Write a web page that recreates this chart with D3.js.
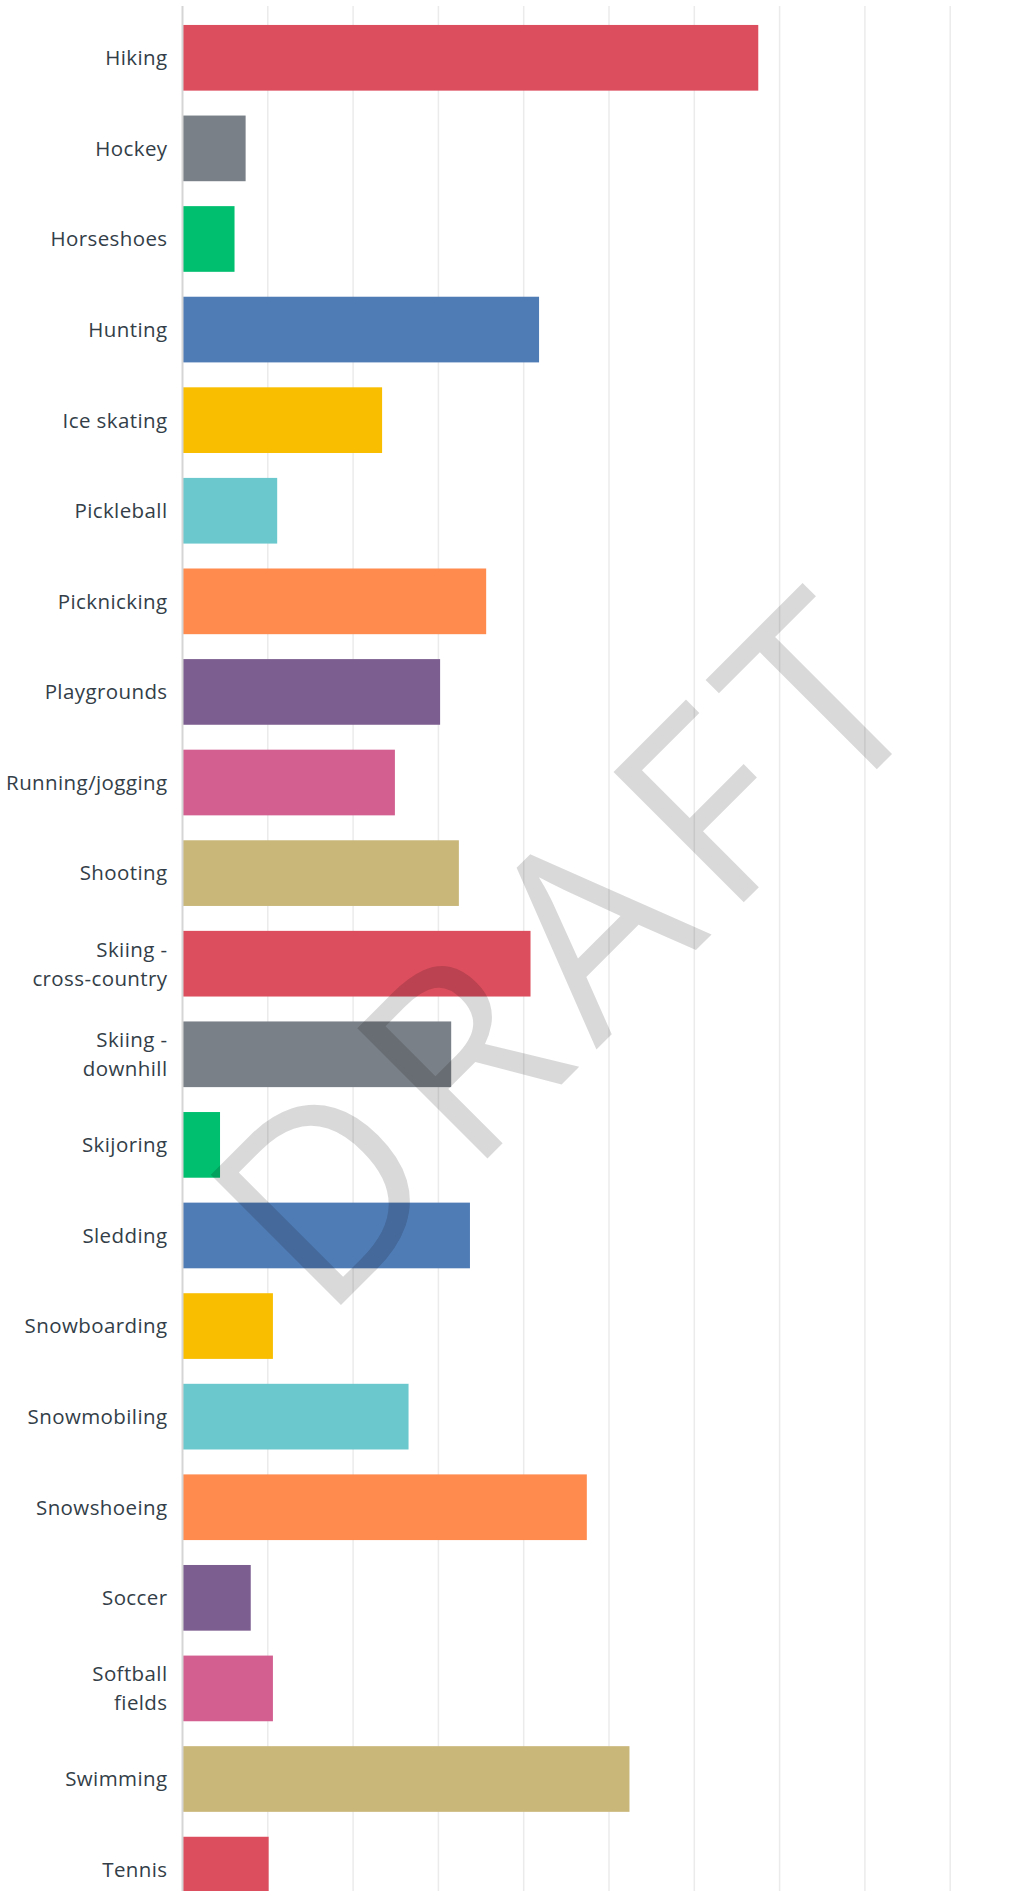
<!DOCTYPE html>
<html>
    <head>
        <meta charset="utf-8" />
        <title>Activities</title>
        <script src="https://d3js.org/d3.v7.min.js"></script>
        <style>
            body {
                margin: 0;
                background: #fff;
            }
            .label {
                font-family: 'Open Sans', sans-serif;
                font-size: 20.5px;
                letter-spacing: 0.4px;
                fill: #333e48;
            }
            .grid line {
                stroke: #ebebeb;
                stroke-width: 1.5px;
            }
            .watermark {
                font-family: 'Open Sans', sans-serif;
                font-size: 258px;
                letter-spacing: 20px;
                fill: #000;
                fill-opacity: 0.15;
            }
        </style>
    </head>
    <body>
        <script>
            const categories = [
                'Hiking', 'Hockey', 'Horseshoes', 'Hunting', 'Ice skating', 'Pickleball',
                'Picknicking', 'Playgrounds', 'Running/jogging', 'Shooting',
                'Skiing - cross-country', 'Skiing - downhill', 'Skijoring', 'Sledding',
                'Snowboarding', 'Snowmobiling', 'Snowshoeing', 'Soccer', 'Softball fields',
                'Swimming', 'Tennis'
            ];
            const values = [
                67.5, 7.4, 6.1, 41.8, 23.4, 11.1,
                35.6, 30.2, 24.9, 32.4,
                40.8, 31.5, 4.4, 33.7,
                10.6, 26.5, 47.4, 8.0, 10.6,
                52.4, 10.1
            ];
            const palette = ['#dc4e5e', '#7a8087', '#00bf6f', '#507cb6', '#f9be00',
                '#6bc8cd', '#ff8b4f', '#7d5e90', '#d25f90', '#c9b77a'];
            const gridTicks = [10, 20, 30, 40, 50, 60, 70, 80, 90];

            const width = 1029, height = 1891;
            const left = 182.5, step = 90.59;

            const svg = d3.select('body').append('svg')
                .attr('width', width)
                .attr('height', height);

            const x = d3.scaleLinear().domain([0, 100]).range([left, left + 853]);
            const y = d3.scaleBand()
                .domain(categories)
                .range([12.5, 12.5 + step * categories.length])
                .paddingInner(0.275)
                .paddingOuter(0.1375);
            const color = d3.scaleOrdinal().domain(d3.range(10)).range(palette);

            // gridlines
            svg.append('g').attr('class', 'grid')
                .selectAll('line')
                .data(gridTicks)
                .join('line')
                .attr('x1', (d) => x(d))
                .attr('x2', (d) => x(d))
                .attr('y1', 6)
                .attr('y2', height);

            // bars
            svg.append('g')
                .selectAll('rect')
                .data(categories)
                .join('rect')
                .attr('x', x(0) + 0.5)
                .attr('y', (d) => y(d))
                .attr('width', (d, i) => x(values[i]) - x(0) - 0.5)
                .attr('height', y.bandwidth())
                .attr('fill', (d, i) => color(i % 10));

            // axis line
            svg.append('line')
                .attr('x1', x(0)).attr('x2', x(0))
                .attr('y1', 6).attr('y2', height)
                .attr('stroke', '#d5d5d5')
                .attr('stroke-width', 2);

            // category labels, wrapped
            const labels = svg.append('g')
                .selectAll('text')
                .data(categories)
                .join('text')
                .attr('class', 'label')
                .attr('text-anchor', 'end')
                .attr('x', x(0) - 15);

            labels.each(function (d) {
                const t = d3.select(this);
                const words = d.split(' ');
                const lines = [];
                let cur = [];
                words.forEach((w) => {
                    const test = cur.concat([w]).join(' ');
                    t.text(test);
                    if (cur.length && this.getComputedTextLength() > 125) {
                        lines.push(cur.join(' '));
                        cur = [w];
                    } else {
                        cur.push(w);
                    }
                });
                lines.push(cur.join(' '));
                t.text(null);
                const cy = y(d) + y.bandwidth() / 2;
                const lh = 29;
                lines.forEach((ln, i) => {
                    t.append('tspan')
                        .attr('x', x(0) - 15)
                        .attr('y', cy + (i - (lines.length - 1) / 2) * lh)
                        .attr('dy', '0.36em')
                        .text(ln);
                });
            });

            // watermark
            svg.append('text')
                .attr('class', 'watermark')
                .attr('text-anchor', 'middle')
                .attr('transform', 'translate(636,1010) rotate(-45)')
                .text('DRAFT');
        </script>
    </body>
</html>
